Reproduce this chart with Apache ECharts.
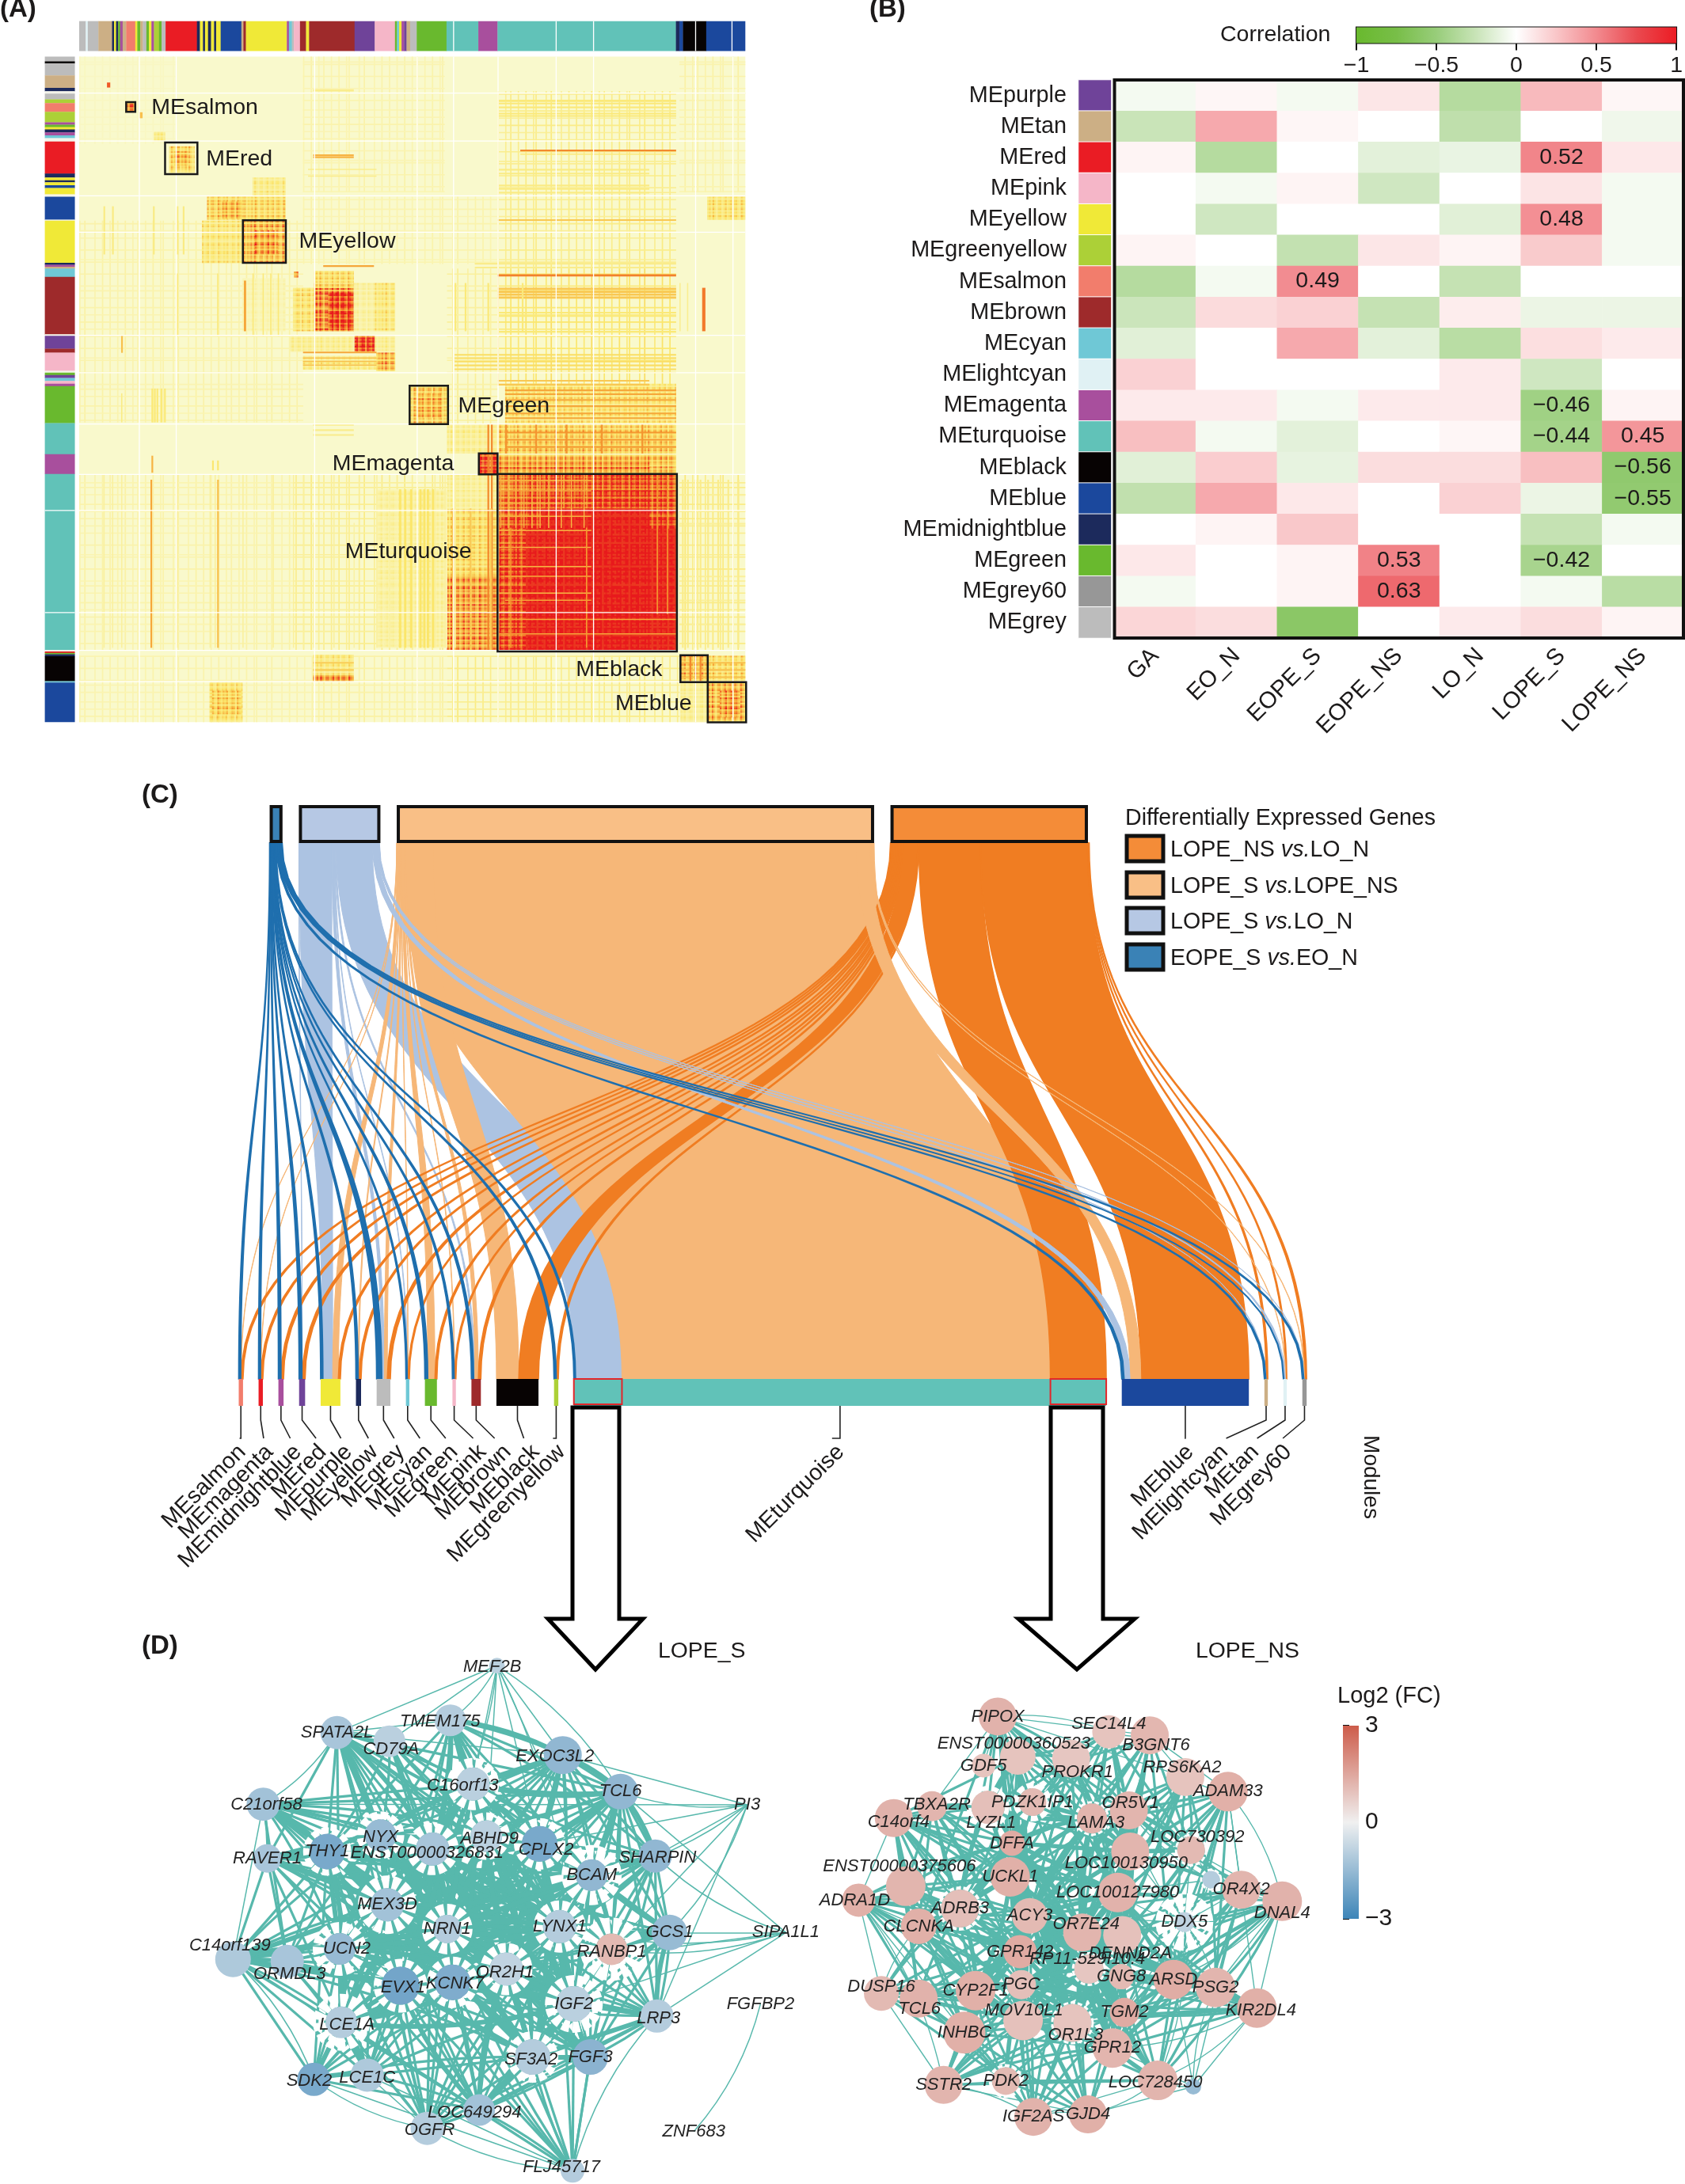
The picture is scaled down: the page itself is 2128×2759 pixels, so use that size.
<!DOCTYPE html>
<html><head><meta charset="utf-8"><title>WGCNA modules figure</title>
<script src="https://cdn.jsdelivr.net/npm/echarts@6/dist/echarts.min.js"></script>
<style>html,body{margin:0;padding:0;background:#fff}#c{width:2128px;height:2759px}</style></head>
<body><div id="c"></div>
<script>
const FONT='"Liberation Sans",Arial,sans-serif';
const INK='#1c1a1a';
// ---------- module colours
const C={gy:'#bcbcbc',tn:'#ccaf85',sa:'#f27d6c',gn:'#69b92e',ye:'#f0e937',gl:'#acd037',re:'#ea1c24',bl:'#1b489d',nv:'#1c2a5c',br:'#9e2a2b',pu:'#6f4399',pk:'#f5b6c8',cy:'#6fc8d6',tq:'#61c2b8',ma:'#a84f9d',bk:'#070303',wh:'#f4f4ea',lc:'#e0f1f4',g6:'#979797'};

// ---------- panel A : colour strips [start, colour], each runs to the next start
const topStrip=[[157,'gy'],[170,'lc'],[174,'gy'],[195,'tn'],[222,'nv'],[226,'ye'],[230,'nv'],[234,'gn'],[238,'ma'],[243,'tn'],[250,'sa'],[268,'ye'],[272,'gn'],[278,'tn'],[283,'gy'],[290,'gn'],[295,'ye'],[300,'ma'],[305,'gl'],[315,'gn'],[320,'gy'],[328,'re'],[390,'nv'],[396,'ye'],[402,'nv'],[406,'ye'],[412,'nv'],[418,'ye'],[424,'nv'],[428,'ye'],[437,'bl'],[478,'tn'],[482,'br'],[487,'ye'],[568,'ma'],[572,'cy'],[578,'gy'],[582,'pk'],[594,'br'],[606,'ye'],[612,'br'],[702,'pu'],[742,'pk'],[782,'gn'],[786,'cy'],[790,'ye'],[795,'ma'],[800,'pu'],[805,'tn'],[812,'gy'],[825,'gn'],[884,'tq'],[947,'ma'],[985,'tq'],[1338,'nv'],[1345,'bl'],[1352,'bk'],[1398,'bl'],[1475,'']];
const leftStrip=[[118,'gy'],[128,'bk'],[132,'gy'],[157,'tn'],[183,'nv'],[190,'wh'],[195,'gy'],[207,'gl'],[215,'sa'],[233,'gl'],[255,'ma'],[260,'gn'],[265,'ye'],[270,'nv'],[276,'ma'],[282,'cy'],[288,'wh'],[295,'re'],[362,'nv'],[370,'ye'],[376,'nv'],[380,'ye'],[386,'bl'],[392,'ye'],[405,'wh'],[410,'bl'],[458,'wh'],[460,'ye'],[548,'nv'],[552,'ma'],[556,'tn'],[560,'cy'],[577,'br'],[697,'wh'],[700,'pu'],[727,'br'],[735,'pk'],[773,'wh'],[777,'gn'],[782,'pu'],[788,'cy'],[794,'pk'],[800,'ma'],[805,'gn'],[882,'tq'],[947,'ma'],[988,'tq'],[1355,'wh'],[1358,'re'],[1361,'gn'],[1364,'nv'],[1368,'bk'],[1420,'cy'],[1423,'bl'],[1505,'']];
// ---------- panel A : speckle levels along genes, read as typical spread inside a tile
const speckleX=[1.1,.5,.8,1.4,.6,.9,1.3,.4,1,1.2,.7,.5,1.5,.9,.6,1.1,.8,1.3,.5,.7,1.2,1,.4,1.4,.8,.6,1.1,1.3,.5,.9,.7,1.2,.6,1.5,.8,.4,1];
const speckleY=[.9,1.3,.6,1,.5,1.4,.8,.7,1.2,.4,1.1,1.5,.6,.9,1.2,.5,.8,1.3,1,.6,.4,1.1,1.4,.7,.9,.5,1.2,1.3,.6,1,.8,.5,1.5,.7,1.1,.9,.4,1.2,.8,1.3,.6];
// faint background tiles [x0,x1,y0,y1,level]
const tomFaint=[[985,1338,190,300,.2],[985,1338,300,560,.2],[985,1338,560,800,.28],[885,985,560,885,.14],[580,885,990,1355,.18],[157,580,990,1355,.1],[1345,1475,990,1355,.22],[1345,1475,118,400,.1],[600,880,118,400,.09],[157,600,460,880,.1],[885,1345,1367,1505,.2],[157,620,1367,1505,.09],[620,885,1367,1505,.12],[600,985,410,550,.09],[157,350,118,300,.03]];
// ---------- panel A : tile blocks of topological overlap [x0,x1,y0,y1,level]
const tomBlocks=[
[212,218,172,182,.8],[276,282,234,246,.45],[305,327,275,295,.22],[250,268,213,233,.8],[335,385,305,360,.36],[345,372,315,345,.52],[410,480,410,458,.4],[440,478,420,455,.5],[480,565,410,458,.36],[500,565,370,410,.22],[400,480,460,548,.26],[482,565,460,548,.5],[505,550,480,530,.6],
[582,590,566,578,.7],[580,622,600,690,.3],[622,700,590,690,.72],[650,700,610,685,1],[622,700,565,600,.34],[700,742,590,690,.14],[742,782,590,690,.26],[575,700,700,733,.18],[702,742,700,733,1],[742,782,700,733,.18],[745,782,735,773,.52],[600,745,742,770,.22],[480,565,580,690,.08],
[812,887,805,884,.42],[825,875,820,870,.52],[1000,1338,800,882,.3],[885,985,885,945,.18],[985,1338,885,945,.42],[948,985,945,988,1],[985,1338,948,988,.5],[985,1285,960,980,.66],
[885,985,1060,1200,.34],[885,985,1200,1355,.62],[885,985,990,1060,.16],[745,885,1020,1350,.14],
[1347,1400,1367,1420,.5],[1402,1475,1423,1505,.5],[1425,1465,1440,1495,.6],[1400,1475,1367,1420,.34],[1347,1400,1423,1505,.18],[1400,1475,410,458,.3],[415,480,1423,1505,.3],[420,478,1440,1490,.4],[620,700,1365,1420,.24],[620,700,1408,1420,.7],[1390,1396,600,690,.7]];
// MEturquoise block : level rises from the upper left to the lower right [start, level]
const turqX=[[985,.8],[1010,.88],[1040,.95],[1070,1],[1170,1.05],[1285,.95],[1338,0]];
const turqY=[[990,.76],[1020,.84],[1060,.95],[1100,1],[1150,1.05],[1275,1.05],[1355,0]];
// rows of elevated overlap [x0,x1,[y...],level,thickness]
const tomRows=[
[985,1338,[208,214,222,235,240],.25,3],[1030,1338,[312],.65,3],[1030,1338,[320],.25,2],[985,1285,[352,360,385,392,400],.22,3],[985,1338,[457],.42,3],[940,1338,[548,556],.2,3],[985,1338,[572],.68,4],[985,1338,[600,606,612,618],.42,4],[985,1338,[650,657,690],.26,3],[900,1338,[738,745,752,760,768],.33,3],[985,1285,[792,800],.42,3],[1000,1338,[812,820,832,845,860,870],.55,3],
[620,700,[322,326],.5,3],[610,745,[352,366],.2,2],[620,700,[186,188],.2,2],[640,740,[553],.55,3],[600,745,[733],.55,3],[600,745,[745,752,760],.45,2],[620,700,[884,895,905],.2,3],
[985,1170,[1000,1022,1048,1075,1105,1140,1180,1235],.5,2],[985,1338,[1290,1320],.55,2],[1000,1170,[1200,1250],.55,2],
[1345,1475,[1030,1090,1200,1250,1300],.15,3],[1345,1475,[1380,1395,1410],.45,3],[620,700,[1380,1395],.4,3],[1000,1338,[900,915,930],.6,3]];
// columns of elevated overlap [y0,y1,[x...],level,thickness]
const tomCols=[
[990,1350,[205,222,240,350,415,425,480,540,580,600,640,660,745,770,860,880,900],.14,2],[1000,1350,[298],.55,3],[1000,1350,[430],.45,3],[1020,1350,[790,800,812,830,838,845,855],.3,4],[1090,1350,[620,700],.12,2],
[430,530,[205,222,303,350,362],.22,3],[810,880,[300,305,310,318,325],.26,3],[820,880,[240],.22,2],[570,700,[350,430,500,520,535,550],.25,2],[585,690,[483],.55,4],[590,690,[900,920,965,1033],.25,3],[590,690,[1345,1360],.18,2],[950,985,[300],.5,3],[960,980,[420,430],.28,3],[700,735,[240],.45,3],
[1000,1350,[1350,1360,1375,1385,1400,1420,1440,1460],.2,3],[885,945,[1000,1060,1120,1190,1270],.62,3],[990,1100,[990,1005,1020,1036,1052,1068,1085,1110,1130,1155],.5,2],[1100,1350,[1010,1160],.6,2],[990,1280,[1300,1320],.6,2],[885,1355,[965,972],.65,3],[1060,1355,[895,930,970],.42,3],[1367,1420,[1365,1385],.65,3]];
const gapColsA=[275,348,622,825,897,985,1100,1174,1376,1450];
const gapRowsA=[193,293,407,483,698,776,883,988,1063,1276,1355,1420];
const moduleBoxes=[[250,268,213,233],[327,391,297,363],[481,566,459,548],[811,887,804,884],[948,985,945,989],[985,1340,988,1358],[1347,1401,1366,1422],[1401,1477,1422,1506]];
const moduleTags=[['MEsalmon',300,225],['MEred',408,332],['MEyellow',592,503],['MEgreen',907,846],['MEmagenta',658,967],['MEturquoise',683,1151],['MEblack',1140,1397],['MEblue',1218,1467]];

// ---------- panel B
const traits=['GA','EO_N','EOPE_S','EOPE_NS','LO_N','LOPE_S','LOPE_NS'];
const modulesB=['MEpurple','MEtan','MEred','MEpink','MEyellow','MEgreenyellow','MEsalmon','MEbrown','MEcyan','MElightcyan','MEmagenta','MEturquoise','MEblack','MEblue','MEmidnightblue','MEgreen','MEgrey60','MEgrey'];
const chipsB=['pu','tn','re','pk','ye','gl','sa','br','cy','lc','ma','tq','bk','bl','nv','gn','g6','gy'];
const corr=[
[-.05,.04,-.05,.11,-.35,.3,.04],
[-.25,.37,.04,0,-.3,0,-.07],
[.05,-.35,0,-.13,-.1,.52,.1],
[0,-.05,.05,-.22,0,.12,-.05],
[0,-.22,0,0,-.14,.48,-.05],
[.05,0,-.28,.11,.05,.23,-.05],
[-.35,-.05,.49,0,-.27,0,0],
[-.24,.16,.2,-.27,.08,-.09,-.09],
[-.14,0,.37,-.13,-.33,.14,.09],
[.2,0,0,0,.09,-.22,0],
[.09,.09,-.05,.09,.09,-.46,.05],
[.28,-.05,-.13,0,.04,-.44,.45],
[-.14,.22,-.11,.15,.15,.28,-.56],
[-.29,.37,.1,0,.2,-.09,-.55],
[0,.05,.24,0,0,-.27,-.05],
[.1,0,.05,.53,0,-.42,0],
[-.05,0,.05,.63,0,-.05,-.33],
[.18,.15,-.6,0,.09,.15,.05]];
const labelledCells=['2,5','4,5','6,2','10,5','11,5','11,6','12,6','13,6','15,3','15,5','16,3'];
const corrStops=['#69b92e','#78be48','#98cd7a','#c9e4b8','#ffffff','#f9c6c8','#f28a8f','#ea4a50','#ec1c24'];

// ---------- panel C
const deSets=['EOPE_S vs.EO_N','LOPE_S vs.LO_N','LOPE_S vs.LOPE_NS','LOPE_NS vs.LO_N'];
const deSetSize=[15,95,556,230];
const deRibbon=['#1f6fae','#acc3e2','#f6b778','#f07d22'];
const deBar=['#3a82b6','#b6c8e4','#f9bf86','#f48c38'];
const moduleLabelsC=['MEsalmon','MEmagenta','MEmidnightblue','MEred','MEpurple','MEyellow','MEgrey','MEcyan','MEgreen','MEpink','MEbrown','MEblack','MEgreenyellow','MEturquoise','MEblue','MElightcyan','MEtan','MEgrey60'];
const moduleColoursC=['sa','re','ma','pu','ye','nv','gy','cy','gn','pk','br','bk','gl','tq','bl','tn','lc','g6'];
// shares arriving at each module (lower end of the ribbons)
const flowEOPE=[2.3,2.3,3,3.3,2.6,2.6,6,1.5,3.3,2,2.6,0,2.6,2,2.7,1.7,.5,1.7];
const flowLOLN=[0,0,0,.4,11.4,0,3,.6,0,0,1.5,0,0,54,7,.3,1.8,.3];
const flowLONS=[.4,.4,0,0,6.6,1,3.5,.4,8.4,.5,4,26,0,499,12.5,0,.4,.5];
const flowNSLO=[2.3,2.3,3,3.3,2.4,2.4,3.5,1.5,2.3,1.5,2.9,23,2.4,65,125.8,2,1.3,2.5];
// shares leaving each DE set (upper end of the ribbons)
const topEOPE=[.45,.45,.5,.5,.6,.45,1.5,.4,.5,.45,.5,0,.45,.8,2,2,1,2];
const topLOLN=[0,0,0,.4,38,0,3,.6,0,0,1.5,0,0,42,6,.4,1.5,.5];
const topLONS=[.2,.2,0,0,3,.8,1.5,.4,2.5,.5,1.5,32,0,556,16,0,.7,.7];
const topNSLO=[1.3,1.3,1.3,1.3,1.3,1.3,1.3,1.2,1.2,1.2,1.2,18,1.2,72,124.5,.6,.6,.7];
const labelEnd=[116,148,181,210,240,270,301,333,363,396,425,458,488,813,1220,1260,1296,1334];
const leaderEnd=[113,141,172,202,231,263,293,323,353,385,410,444,478,803,1215,1262,1298,1328];

// ---------- panel D
const namesL=['MEF2B','TMEM175','SPATA2L','CD79A','EXOC3L2','C16orf13','TCL6','PI3','C21orf58','NYX','ABHD9','CPLX2','ENST00000326831','THY1','RAVER1','SHARPIN','BCAM','MEX3D','NRN1','LYNX1','GCS1','SIPA1L1','RANBP1','UCN2','C14orf139','ORMDL3','OR2H1','KCNK7','EVX1','IGF2','LRP3','LCE1A','SF3A2','FGF3','LCE1C','SDK2','LOC649294','OGFR','FLJ45717','FGFBP2','ZNF683'];
const xL=[762,657,402,520,910,708,1040,1325,236,500,738,858,617,380,245,1118,975,515,650,903,1150,1412,1020,408,168,290,783,662,545,935,1122,412,842,972,470,350,722,605,932,1355,1205];
const yL=[78,235,270,295,335,418,440,478,476,565,568,590,605,612,632,625,680,765,835,828,845,845,893,892,922,928,950,988,998,1050,1085,1103,1203,1203,1255,1267,1355,1408,1530,1050,1417];
const degL=[20,40,42,40,48,42,45,1,42,40,40,45,42,45,36,42,40,42,36,42,45,1,40,40,45,42,42,45,48,45,42,40,45,45,42,42,40,42,30,1,1];
const fcL=[-.9,-1,-1.2,-.9,-1.6,-.9,-1.6,-.1,-1.3,-1.5,-.9,-2,-1.2,-2,-1.2,-1.6,-1.6,-1.3,-1,-1,-1.5,-.1,1.1,-1.5,-1.1,-1.2,-.8,-1.9,-2.1,-.9,-1,-1,-1,-1.7,-1.1,-2,-1.3,-1,-1,-.1,-.1];
const ringL=[0,0,0,0,0,12,0,0,0,10,10,10,12,8,0,0,18,16,14,12,0,0,20,14,0,0,12,10,10,14,0,16,10,0,0,0,0,0,0,0,0];
const shiftL={MEF2B:[-6,2],TMEM175:[-13,2],CD79A:[2,10],C16orf13:[-13,2],EXOC3L2:[-10,2],C21orf58:[4,1],NYX:[0,3],ABHD9:[4,3],CPLX2:[8,8],ENST00000326831:[-7,5],SHARPIN:[3,2],C14orf139:[-4,-17],ORMDL3:[3,16],UCN2:[9,0],EVX1:[3,2],KCNK7:[3,2],LCE1A:[7,3],SF3A2:[-2,3],LRP3:[2,3],LCE1C:[0,3],SDK2:[-6,2],RANBP1:[0,3],LOC649294:[-6,3],OGFR:[3,2],FLJ45717:[-14,-4],OR2H1:[-2,4]};
const edgesLThin=[[0,[1,3,4,6,5,10,12,16,19,29,2]],[7,[6,4,15,20,30,8,16,22,11]],[21,[15,20,6,22,30,29,19,26]],[39,[40]],[38,[37,36,35,30,34]],[24,[37,14,8,35]],[2,[3,1,4,8]],[37,[35,34,36]]];
const edgesLMid=[[2,[9,12,17,18,13,23,27,28,16,19,11,10,5,22,14]],[3,[9,12,18,13,10,11,16,19,26,27]],[1,[4,5,6,9,10,11,12,13,16,17,18,19,26,27,28,29,32,33,15]],[4,[5,6,10,11,12,13,16,17,18,19,15,20,22,26,27,9,28,29]],[6,[5,8,10,11,12,15,16,17,18,19,20,22,26,27,2,13,28,29,33,30]],[8,[9,12,13,14,17,18,23,25,27,28,5,10,11,16,19,26]],[14,[9,12,13,17,18,19,23,25,24,27,28,31,26,16,29,11]],[15,[5,10,11,16,17,18,19,20,22,26,27,28,29,30,32,33]],[20,[16,17,18,19,22,26,27,28,29,30,32,33,12,13,23,25]],[24,[9,12,13,17,18,23,25,27,28,31,34,35,19,26,29,32,36]],[25,[17,18,23,27,28,31,34,12,13,9]],[30,[16,18,19,22,26,27,28,29,32,33,36,37,12,17,23]],[33,[18,19,22,26,27,28,29,32,36,37,38,12,17,13,16]],[35,[17,18,23,27,28,31,34,36,26,32,13,12]],[34,[17,18,23,27,28,31,36,26,32,29,12]],[36,[17,18,23,26,27,28,29,31,32,38,19,12,9]],[37,[17,18,23,26,27,28,29,31,32,19,16,13,9,12]],[38,[18,19,26,27,28,29,32,33,31,17,12]]];
const edgesLThick=[[9,[10,11,12,13,16,17,18,19,23,26,27,28,29,32]],[10,[11,12,13,16,17,18,19,23,26,27,28,29,32]],[11,[12,13,16,17,18,19,22,23,26,27,28,29,32,5]],[12,[13,16,17,18,19,22,23,26,27,28,29,31,32,5]],[13,[16,17,18,19,23,26,27,28,29,31,32,5]],[5,[16,17,18,19,23,26,27,28,29,32,10]],[16,[17,18,19,22,23,26,27,28,29,31,32]],[17,[18,19,22,23,26,27,28,29,31,32]],[18,[19,22,23,26,27,28,29,31,32]],[19,[22,23,26,27,28,29,31,32]],[23,[26,27,28,29,31,32]],[26,[27,28,29,31,32]],[27,[28,29,31,32]],[28,[29,31,32]],[29,[31,32]],[1,[4,5,10,12]],[4,[6,11,5]],[6,[15,11,16,5]],[30,[20,29,32]],[35,[34]],[36,[28,29,32,26]],[33,[29,32,26,19]],[31,[34,35,23]],[2,[12,9]],[8,[13]],[14,[13,12]],[15,[19,16]],[24,[23,28,17]],[20,[19,22,16]]];

const namesR=['PIPOX','SEC14L4','B3GNT6','ENST00000360523','GDF5','PROKR1','RPS6KA2','ADAM33','TBXA2R','C14orf4','LYZL1','PDZK1IP1','LAMA3','OR5V1','DFFA','LOC100130950','LOC730392','UCKL1','ENST00000375606','ADRA1D','ADRB3','LOC100127980','ACY3','OR4X2','','DNAL4','CLCNKA','DDX5','OR7E24','DENND2A','GPR142','RP11-529I10.4','GNG8','ARSD','PSG2','PGC','CYP2F1','DUSP16','TCL6','KIR2DL4','TGM2','MOV10L1','OR1L3','INHBC','GPR12','SSTR2','PDK2','LOC728450',' ','IGF2AS','GJD4'];
const xR=[410,660,752,455,378,575,832,928,262,176,388,488,622,705,442,708,845,438,203,97,325,680,482,958,890,1050,232,830,600,690,460,615,688,805,900,463,360,148,232,993,695,467,578,335,668,288,428,770,850,490,613];
const yR=[224,268,278,340,365,345,398,440,482,516,485,470,517,494,588,612,608,685,712,752,776,730,797,722,693,755,827,815,845,852,900,950,972,980,1003,995,1012,1020,1035,1062,1075,1098,1105,1133,1177,1283,1272,1270,1288,1375,1368];
const degR=[48,42,48,45,30,48,48,50,38,48,42,35,38,48,32,48,35,50,50,42,48,50,45,48,22,50,45,25,48,48,42,37,32,50,50,37,50,44,48,50,37,50,48,53,50,48,35,50,20,48,48];
const fcR=[1.25,.9,1.15,.9,.9,.85,.9,1.3,1.2,1.25,1,1.1,1.2,1.2,1.4,1.2,1.1,1.3,1.2,1.3,1,1.25,1.1,1.2,-1,1.25,1.3,-.8,1.2,.95,1.4,.85,1.1,1.35,1.2,1,1.3,1.1,1.25,1.3,1.4,.95,.9,1.3,1.2,1.2,1.1,1.2,-1.5,1.25,1.3];
const ringR=[0,0,0,0,0,0,0,0,0,0,6,7,3,0,0,0,3,0,0,0,4,0,0,0,3,0,0,24,0,0,0,3,0,0,0,0,0,0,0,0,0,0,3,0,0,0,4,0,0,0,0];
const shiftR={ENST00000360523:[-5,-17],PROKR1:[8,17],RPS6KA2:[-4,-12],TBXA2R:[6,-2],C14orf4:[6,5],LYZL1:[4,20],LAMA3:[5,6],OR5V1:[2,-9],LOC100130950:[-5,15],LOC730392:[8,-16],ENST00000375606:[-8,-25],ADRA1D:[-5,0],DNAL4:[0,15],OR7E24:[5,-10],DENND2A:[10,23],'RP11-529I10.4':[-2,-13],DUSP16:[0,-8],TCL6:[1,13],KIR2DL4:[5,3],MOV10L1:[1,-13],OR1L3:[4,15],SEC14L4:[0,-10],B3GNT6:[8,13],LOC728450:[-3,3]};
const edgesRThin=[[0,[1,2,6,3,4,8]],[2,[1,6,7]],[7,[6,16,23,25,39]],[25,[23,39,34,33,16]],[39,[47,48,34,44]],[48,[47,44,33,34,50,23]],[24,[23,25,21,27,16,15,13,33]],[27,[21,23,25,28,29,33,34,15,16,13,40,44,47,22]],[19,[18,26,37,45,9,43]],[37,[38,45,43,26]],[45,[49,50,46]],[49,[50,46]],[47,[50,49]]];
const edgesRMid=[[0,[5,10,11,12,13,14,15,17,20,21,22,28,30,26,35]],[1,[3,5,10,11,12,13,15,16,17,21,22,28,29]],[2,[5,11,12,13,15,16,17,21,22,28,29,33,30]],[3,[5,9,10,11,12,13,14,15,17,20,21,22,30,35]],[5,[10,11,12,13,14,15,16,17,20,21,22,28,29,30]],[6,[12,13,15,16,21,22,28,29,33,34,17,14,31]],[7,[12,13,15,21,22,28,29,33,34,31,32,40,44,47]],[8,[10,11,14,17,18,20,22,26,30,35,36,12,15]],[9,[10,11,14,17,18,20,22,26,30,35,36,38,41,12,21,28]],[18,[14,17,20,22,26,30,35,36,38,41,43,31]],[19,[14,17,20,22,30,35,36,38,41,43,28]],[23,[13,15,16,21,28,29,33,34,44,47,40,22]],[25,[13,15,21,28,29,33,34,40,44,47,42,31,32]],[37,[20,22,30,35,36,41,42,43,46,14]],[38,[20,22,30,35,36,41,42,43,46,49]],[39,[21,28,29,31,32,33,40,42,44,35,41,22]],[43,[30,35,36,41,42,44,46,49,50,40,22,31]],[45,[30,35,36,41,42,43,44,47,40,22,31,28]],[46,[35,41,42,44,47,50,36,30]],[47,[28,29,31,32,33,35,40,41,42,44,22]],[49,[30,35,36,41,42,44,40,31,22,28]],[50,[30,35,40,41,42,44,31,32,22,28]],[26,[14,17,20,22,30,35,36,41,28,43,31,21]],[34,[21,28,29,31,32,33,40,42,44,22]]];
const edgesRThick=[[14,[12,15,17,20,21,22,28,30,35,31,40,42]],[17,[12,15,20,21,22,28,30,31,35,36,40,41,42]],[21,[12,15,22,28,29,30,31,32,33,35,40,41,42,44]],[22,[12,15,28,29,30,31,32,35,36,40,41,42,44]],[30,[12,28,29,31,32,35,36,40,41,42,44]],[28,[12,15,29,31,32,33,35,40,41,42,44]],[35,[31,32,36,40,41,42,44,29]],[31,[32,40,41,42,44,29,12,15]],[41,[40,42,44,36,32]],[42,[40,44,32,29]],[12,[13,15,11,10]],[15,[13,16,29]],[20,[10,14,30,36,26]],[13,[16,21,28,29,22]],[33,[29,28,40,44,31,32,34]],[40,[32,44,29]],[36,[30,35,41,43,22]],[10,[14,17,11,3]],[11,[14,17,15]],[26,[30,36]]];
const fcStops=['#3d85b8','#f0f0f0','#cd5c4a'];

// ---------- helpers
function hex(c){return [1,3,5].map(i=>parseInt(c.slice(i,i+2),16));}
function mix(a,b,t){const A=hex(a),B=hex(b);return 'rgb('+A.map((v,i)=>Math.round(v+(B[i]-v)*t)).join(',')+')';}
function tomColour(v){const s=[[0,'#f9f9cc'],[.3,'#fbe66a'],[.6,'#f59a30'],[1,'#e8191c']];for(let i=1;i<s.length;i++)if(v<=s[i][0])return mix(s[i-1][1],s[i][1],(v-s[i-1][0])/(s[i][0]-s[i-1][0]));return s[3][1];}
function fcColour(v){return v<0?mix(fcStops[1],fcStops[0],-v/3):mix(fcStops[1],fcStops[2],v/3);}
const rectItem=(x0,x1,y0,y1,fill)=>({type:'rect',shape:{x:x0,y:y0,width:x1-x0,height:y1-y0},style:{fill}});
const stepLevel=(tbl,v)=>{let L=0;for(const t of tbl){if(v>=t[0])L=t[1];}return L;};

// ---------- panel A series data
const tomCells=[];
tomCells.push([157,1475,118,1505,'#f9f9cc']);
function streaky(b){ // faint tile : isolated lighter streaks along rows and columns
  const step=5;
  for(let x=b[0];x<b[1];x+=step){const s=speckleX[Math.round(x/step)%speckleX.length];if(s>=1.1)tomCells.push([x,x+2.2,b[2],b[3],tomColour(b[4]*s*.8)]);}
  for(let y=b[2];y<b[3];y+=step){const s=speckleY[Math.round(y/step)%speckleY.length];if(s>=1.2)tomCells.push([b[0],b[1],y,y+2.2,tomColour(b[4]*s*.7)]);}
}
function speckled(b){
  const step=(b[1]-b[0])*(b[3]-b[2])>40000?4:3.5;
  const x0=b[0],x1=b[1],y0=b[2],y1=b[3],lv=b[4];
  if(x1-x0<=step*2){tomCells.push([x0,x1,y0,y1,tomColour(lv)]);return;}
  for(let x=x0;x<x1;x+=step)for(let y=y0;y<y1;y+=step){
    const i=Math.round(x/step)%speckleX.length,j=Math.round(y/step)%speckleY.length;
    tomCells.push([x,Math.min(x+step,x1),y,Math.min(y+step,y1),tomColour(Math.min(lv*(.35+.65*speckleX[i]*speckleY[j]),1))]);
  }
}
tomFaint.forEach(streaky);
tomBlocks.forEach(speckled);
tomCells.push([985,1338,990,1355,tomColour(1)]);
for(let x=985;x<1338;x+=3.5)for(let y=990;y<1355;y+=3.5){
  const i=Math.round(x/3.5)%speckleX.length,j=Math.round(y/3.5)%speckleY.length,k=stepLevel(turqX,x)*stepLevel(turqY,y);
  let v=k*Math.min(1.35,.45+.7*speckleX[i]*speckleY[j]);
  if(k>=.95)v=Math.max(v,.9);
  if(v<.97)tomCells.push([x,x+3.5,y,y+3.5,tomColour(v)]);
}
tomRows.forEach(r=>r[2].forEach(y=>tomCells.push([r[0],r[1],y,y+r[4],tomColour(r[3])])));
tomCols.forEach(c=>c[2].forEach(x=>tomCells.push([x,x+c[4],c[0],c[1],tomColour(c[3])])));
gapColsA.forEach(x=>tomCells.push([x,x+1.6,118,1505,'#ffffff']));
gapRowsA.forEach(y=>tomCells.push([157,1475,y,y+1.6,'#ffffff']));
topStrip.slice(0,-1).forEach((s,i)=>tomCells.push([s[0],topStrip[i+1][0],44,106,C[s[1]]]));
leftStrip.slice(0,-1).forEach((s,i)=>tomCells.push([89,148,s[0],leftStrip[i+1][0],C[s[1]]]));
[897,1100,1174,1376,1448].forEach(x=>tomCells.push([x,x+1.6,44,106,'#ffffff']));
[1063,1276].forEach(y=>tomCells.push([89,148,y,y+1.6,'#ffffff']));

// ---------- panel C layout in flow units
const flows=[flowEOPE,flowLOLN,flowLONS,flowNSLO];
const topFlows=[topEOPE,topLOLN,topLONS,topNSLO];
const modWidth=moduleLabelsC.map((_,m)=>flows.reduce((a,f)=>a+f[m],0));
const modGap=18.1,setGap=19,setStart=148,modStart=112;
const barBottom=.0632,modTop=.9552;
const TURQ=moduleLabelsC.indexOf('MEturquoise');
const modX=[];{let x=modStart;modWidth.forEach(w=>{modX.push(x);x+=w+modGap;});}
const setX=[];{let x=setStart;deSetSize.forEach(w=>{setX.push(x);x+=w+setGap;});}
const ribbonAll=[[],[],[],[]];
flows.forEach((f,s)=>{let tx=setX[s];
  f.forEach((v,m)=>{const w=topFlows[s][m];if(!v||!w)return;
    if(s===2&&m===TURQ)tx=setX[2];               // the big ribbon starts at the very edge of the bar and covers the narrow ones' origin
    if(s===2&&m===TURQ+1)tx=setX[2]+535;         // the narrow ribbons to the right start on top of it
    let bx=modX[m];for(let q=0;q<s;q++)bx+=flows[q][m];
    const under=(s===1&&m===TURQ)?26:(s===2&&m===TURQ)?40:0; // these sides run on hidden under the next ribbon
    ribbonAll[s].push({s,m,pts:[tx,tx+w,bx,bx+v+under]});tx+=w;});});
// stacking of the ribbons as seen in the reference, bottom first
const ribbonLayers=[
  ribbonAll[1].filter(r=>r.m<=TURQ),
  ribbonAll[2].filter(r=>r.m===TURQ),
  ribbonAll[2].filter(r=>r.m<TURQ),
  ribbonAll[3].filter(r=>r.m<TURQ),
  ribbonAll[3].filter(r=>r.m>=TURQ),
  ribbonAll[2].filter(r=>r.m>TURQ),
  ribbonAll[1].filter(r=>r.m>TURQ),
  ribbonAll[0]];
function ribbonItem(params,api){
  const a0=api.coord([api.value(0),barBottom]),a1=api.coord([api.value(1),barBottom]);
  const b0=api.coord([api.value(2),modTop]),b1=api.coord([api.value(3),modTop]);
  const N=44,l=[],r=[],y0=a0[1],y1=b0[1],cy=(y0+y1)/2;
  for(let i=0;i<=N;i++){const t=i/N,u=1-t,h=u*u*u+3*u*u*t,y=u*u*u*y0+3*u*u*t*cy+3*u*t*t*cy+t*t*t*y1;
    l.push([a0[0]*h+b0[0]*(1-h),y]);r.push([a1[0]*h+b1[0]*(1-h),y]);}
  const s=ribbonLayers[params.seriesIndex-ribbonFirst][params.dataIndex].s,fill=deRibbon[s];
  return {type:'polygon',shape:{points:l.concat(r.reverse())},style:{fill,stroke:fill,lineWidth:s===0?1.7:s===3?1.5:1}};
}

// ---------- panel D helper
function netEdges(tiers){const out=[];tiers.forEach(t=>t.rows.forEach(r=>r[1].forEach((b,i)=>out.push({source:r[0],target:b,lineStyle:{color:'#57b8ac',width:t.w,opacity:1,curveness:t.c&&i%3===0?t.c:0}}))));return out;}
function netSeries(n,x,y,deg,fc,ring,shift,tiers,ax){
  const hidden=n.map((nm,i)=>({name:'n'+i,value:[x[i],y[i]],symbolSize:1,itemStyle:{opacity:0},label:{show:false}}));
  const edges={type:'graph',name:'edges',coordinateSystem:'cartesian2d',xAxisIndex:ax,yAxisIndex:ax,data:hidden,links:netEdges(tiers),silent:true,z:3,edgeSymbol:['none','none'],animation:false};
  const rings={type:'scatter',xAxisIndex:ax,yAxisIndex:ax,silent:true,z:4,clip:false,data:x.map((v,i)=>ring[i]?{value:[v,y[i]],symbolSize:deg[i]+ring[i],itemStyle:{color:'rgba(0,0,0,0)',borderColor:'#fff',borderWidth:ring[i],borderType:ring[i]>5?[9,4]:[6,3],opacity:1}}:null).filter(Boolean)};
  const nodes={type:'graph',name:'genes',coordinateSystem:'cartesian2d',xAxisIndex:ax,yAxisIndex:ax,silent:true,z:5,links:[],data:n.map((nm,i)=>{const sh=shift[nm]||[0,0];return {name:nm+'#'+i,value:[x[i],y[i]],symbolSize:deg[i],itemStyle:{color:deg[i]<2?'rgba(0,0,0,0)':fcColour(fc[i]),opacity:1},label:{show:true,position:'inside',formatter:nm,offset:sh,fontFamily:FONT,fontStyle:'italic',fontSize:22,color:'#232323'}};})};
  return [edges,rings,nodes];
}

// ---------- graphic annotation
const G=[];
const T=(text,x,y,o={})=>G.push({type:'text',z:50,silent:true,rotation:o.rot||0,x,y,style:{text,fontFamily:FONT,fontSize:o.size||28.5,fontWeight:o.bold?'bold':'normal',fontStyle:o.italic?'italic':'normal',fill:o.fill||INK,textAlign:o.align||'left',textVerticalAlign:'middle',rich:o.rich}});
T('(A)',0,12,{bold:true,size:33});T('(B)',1098,12,{bold:true,size:33});T('(C)',179,1005,{bold:true,size:33});T('(D)',179,2080,{bold:true,size:33});
T('Correlation',1541,44);
T('Differentially Expressed Genes',1421,1034,{size:28.6});
[[3,'LOPE_NS','LO_N',1072],[2,'LOPE_S','LOPE_NS',1118],[1,'LOPE_S','LO_N',1163],[0,'EOPE_S','EO_N',1209]].forEach(r=>{
  G.push({type:'rect',z:50,silent:true,shape:{x:1423,y:r[3]-16,width:46,height:32},style:{fill:deBar[r[0]],stroke:'#111',lineWidth:5}});
  T(r[1]+' {i|vs.}'+r[2],1478,r[3]+2,{size:28.6,rich:{i:{fontStyle:'italic',fontSize:28.6,fontFamily:FONT,fill:INK}}});
});
T('Modules',1731,1866,{rot:-Math.PI/2,align:'center',size:28});
T('LOPE_S',831,2086,{size:28.4});T('LOPE_NS',1510,2086,{size:28.4});
T('Log2 (FC)',1689,2143,{size:29});
[[[723,1778],[782,1778],[782,2045],[812,2045],[752,2109],[692,2045],[723,2045]],[[1327,1778],[1393,1778],[1393,2045],[1433,2045],[1360,2109],[1286,2045],[1327,2045]]].forEach(p=>G.push({type:'polygon',z:40,silent:true,shape:{points:p},style:{fill:'#fff',stroke:'#000',lineWidth:5,lineJoin:'miter'}}));
G.push({type:'rect',z:40,silent:true,shape:{x:1407.5,y:101,width:718.5,height:705},style:{fill:'none',stroke:'#111',lineWidth:4}});

// ---------- option
const hiddenAxis=(i,min,max,inv)=>({gridIndex:i,type:'value',min,max,inverse:!!inv,show:false});
const series=[];
series.push({type:'custom',name:'TOM',xAxisIndex:0,yAxisIndex:0,silent:true,clip:false,progressive:0,data:tomCells.map(c=>[c[0],c[1],c[2],c[3]]),
 renderItem(p,api){const a=api.coord([api.value(0),api.value(2)]),b=api.coord([api.value(1),api.value(3)]);return rectItem(a[0],b[0]+.3,a[1],b[1]+.3,tomCells[p.dataIndex][4]);}});
series.push({type:'custom',name:'module boxes',xAxisIndex:0,yAxisIndex:0,silent:true,clip:false,z:6,data:moduleBoxes,
 renderItem(p,api){const a=api.coord([api.value(0),api.value(2)]),b=api.coord([api.value(1),api.value(3)]);return {type:'rect',shape:{x:a[0],y:a[1],width:b[0]-a[0],height:b[1]-a[1]},style:{fill:'none',stroke:'#1a1a1a',lineWidth:2.5}};}});
series.push({type:'custom',name:'module tags',xAxisIndex:0,yAxisIndex:0,silent:true,clip:false,z:7,data:moduleTags.map(t=>[t[1],t[2]]),
 renderItem(p,api){const a=api.coord([api.value(0),api.value(1)]);return {type:'text',x:a[0],y:a[1],style:{text:moduleTags[p.dataIndex][0],fontFamily:FONT,fontSize:28.5,fill:INK,textAlign:'left',textVerticalAlign:'middle'}};}});
const corrData=[];corr.forEach((row,r)=>row.forEach((v,c)=>corrData.push([c,r,v])));
series.push({type:'heatmap',name:'Correlation',xAxisIndex:1,yAxisIndex:1,silent:true,data:corrData,
 label:{show:true,fontFamily:FONT,fontSize:28.5,color:INK,formatter:p=>labelledCells.includes(p.value[1]+','+p.value[0])?p.value[2].toFixed(2).replace('-','\u2212'):''}});
const corrSeriesIndex=series.length-1;
series.push({type:'heatmap',name:'chips',xAxisIndex:2,yAxisIndex:2,silent:true,
 data:chipsB.map((k,i)=>({value:[0,i,1],itemStyle:{color:C[k],borderColor:'#fff',borderWidth:1}}))});
series.push({type:'custom',name:'corr legend',xAxisIndex:3,yAxisIndex:3,silent:true,data:[[-1,1]],
 renderItem(p,api){const a=api.coord([-1,0]),b=api.coord([1,1]);return {type:'rect',shape:{x:a[0],y:b[1],width:b[0]-a[0],height:a[1]-b[1]},style:{fill:new echarts.graphic.LinearGradient(0,0,1,0,corrStops.map((c,i)=>({offset:i/(corrStops.length-1),color:c})))}};}});
const ribbonFirst=series.length;
ribbonLayers.forEach((layer,i)=>series.push({type:'custom',name:'ribbons '+i,xAxisIndex:4,yAxisIndex:4,silent:true,clip:false,z:2,data:layer.map(r=>r.pts),renderItem:ribbonItem}));
series.push({type:'custom',name:'DE sets',xAxisIndex:4,yAxisIndex:4,silent:true,clip:false,z:4,data:deSetSize.map((w,i)=>[setX[i],setX[i]+w]),
 renderItem(p,api){const a=api.coord([api.value(0),0]),b=api.coord([api.value(1),barBottom]);return {type:'rect',shape:{x:a[0]+2,y:a[1]+2,width:b[0]-a[0]-4,height:b[1]-a[1]-4},style:{fill:deBar[p.dataIndex],stroke:'#111',lineWidth:4}};}});
series.push({type:'custom',name:'modules',xAxisIndex:4,yAxisIndex:4,silent:true,clip:false,z:4,data:modWidth.map((w,i)=>[modX[i],modX[i]+w]),
 renderItem(p,api){const a=api.coord([api.value(0),modTop]),b=api.coord([api.value(1),1]);const k=moduleColoursC[p.dataIndex];
  const ch=[rectItem(a[0],b[0],a[1],b[1],C[k])];
  if(k==='tq'){const m=p.dataIndex,q0=flows[0][m]+flows[1][m],q1=q0+flows[2][m];[[0,q0],[q1,modWidth[m]]].forEach(s=>{const A=api.coord([modX[m]+s[0],modTop]),B=api.coord([modX[m]+s[1],1]);ch.push({type:'rect',shape:{x:A[0],y:A[1],width:B[0]-A[0],height:B[1]-A[1]-2},style:{fill:'none',stroke:'#e3262a',lineWidth:2}});});}
  return {type:'group',children:ch};}});
series.push({type:'custom',name:'module labels',xAxisIndex:4,yAxisIndex:4,silent:true,clip:false,z:4,data:moduleLabelsC.map((_,i)=>[modX[i]+modWidth[i]/2,leaderEnd[i],labelEnd[i]]),
 renderItem(p,api){const a=api.coord([api.value(0),1]),e=api.coord([api.value(1),1]),l=api.coord([api.value(2),1]);const i=p.dataIndex;const kink=i>=15?18:(i===13||i===14||i===0||i===12?41:18);
  return {type:'group',children:[{type:'polyline',shape:{points:[[a[0],a[1]],[a[0],a[1]+kink],[e[0],a[1]+41]]},style:{fill:'none',stroke:'#222',lineWidth:1.6}},
   {type:'text',x:l[0],y:a[1]+54,rotation:Math.PI/4,style:{text:moduleLabelsC[i],fontFamily:FONT,fontSize:28.8,fill:INK,textAlign:'right',textVerticalAlign:'middle'}}]};}});
netSeries(namesL,xL,yL,degL,fcL,ringL,shiftL,[{rows:edgesLThin,w:1.5,c:.12},{rows:edgesLMid,w:3.2,c:.06},{rows:edgesLThick,w:6,c:.1}],5).forEach(s=>series.push(s));
netSeries(namesR,xR,yR,degR,fcR,ringR,shiftR,[{rows:edgesRThin,w:1.4,c:.12},{rows:edgesRMid,w:3.2,c:.08},{rows:edgesRThick,w:5.5,c:.1}],6).forEach(s=>series.push(s));
series.push({type:'custom',name:'fc legend',xAxisIndex:7,yAxisIndex:7,silent:true,data:[[0,1]],
 renderItem(p,api){const a=api.coord([0,3]),b=api.coord([1,-3]);return {type:'rect',shape:{x:a[0],y:a[1],width:b[0]-a[0],height:b[1]-a[1]},style:{fill:new echarts.graphic.LinearGradient(0,0,0,1,[{offset:0,color:fcStops[2]},{offset:.5,color:fcStops[1]},{offset:1,color:fcStops[0]}])}};}});

const option={animation:false,backgroundColor:'#fff',textStyle:{fontFamily:FONT},
 grid:[
  {left:100,top:71.5,width:841,height:840.5},
  {left:1407.5,top:101,width:718.5,height:705},
  {left:1362,top:101,width:41.5,height:705},
  {left:1713,top:34.5,width:410,height:20,show:true,borderColor:'#111',borderWidth:2,backgroundColor:'transparent'},
  {left:301.5,top:1017,width:1349,height:759},
  {left:200,top:2070,width:880,height:689},
  {left:1030,top:2070,width:880,height:689},
  {left:1696,top:2180,width:20,height:244}],
 xAxis:[hiddenAxis(0,157,1475),
  {gridIndex:1,type:'category',data:traits,axisLine:{show:false},axisTick:{show:false},splitLine:{show:false},axisLabel:{rotate:45,fontSize:29.5,color:INK,margin:18,interval:0,fontFamily:FONT}},
  {gridIndex:2,type:'category',data:['c'],show:false},
  {gridIndex:3,type:'value',min:-1,max:1,interval:.5,axisLine:{show:false},splitLine:{show:false},axisTick:{show:true,length:9,lineStyle:{color:'#111',width:2}},axisLabel:{fontSize:28.5,color:INK,margin:14,fontFamily:FONT,formatter:v=>String(v).replace('-','\u2212')}},
  hiddenAxis(4,112,1356),hiddenAxis(5,0,1568),hiddenAxis(6,0,1568),hiddenAxis(7,0,1)],
 yAxis:[hiddenAxis(0,118,1505,true),
  {gridIndex:1,type:'category',data:modulesB,inverse:true,show:false},
  {gridIndex:2,type:'category',data:modulesB,inverse:true,axisLine:{show:false},axisTick:{show:false},axisLabel:{fontSize:28.8,color:INK,margin:15,fontFamily:FONT}},
  {gridIndex:3,type:'value',min:0,max:1,show:false},
  hiddenAxis(4,0,1,true),hiddenAxis(5,0,1568,true),hiddenAxis(6,0,1568,true),
  {gridIndex:7,type:'value',min:-3,max:3,interval:3,position:'right',axisLine:{show:false},splitLine:{show:false},axisTick:{show:true,length:8,inside:false,lineStyle:{color:'#111',width:2}},axisLabel:{fontSize:30,color:INK,margin:8,fontFamily:FONT,formatter:v=>String(v).replace('-','\u2212')}}],
 visualMap:[{show:false,type:'continuous',min:-1,max:1,seriesIndex:corrSeriesIndex,dimension:2,inRange:{color:corrStops}}],
 graphic:G,series};
const chart=echarts.init(document.getElementById('c'),null,{renderer:'canvas',width:2128,height:2759});
chart.setOption(option);
</script></body></html>
